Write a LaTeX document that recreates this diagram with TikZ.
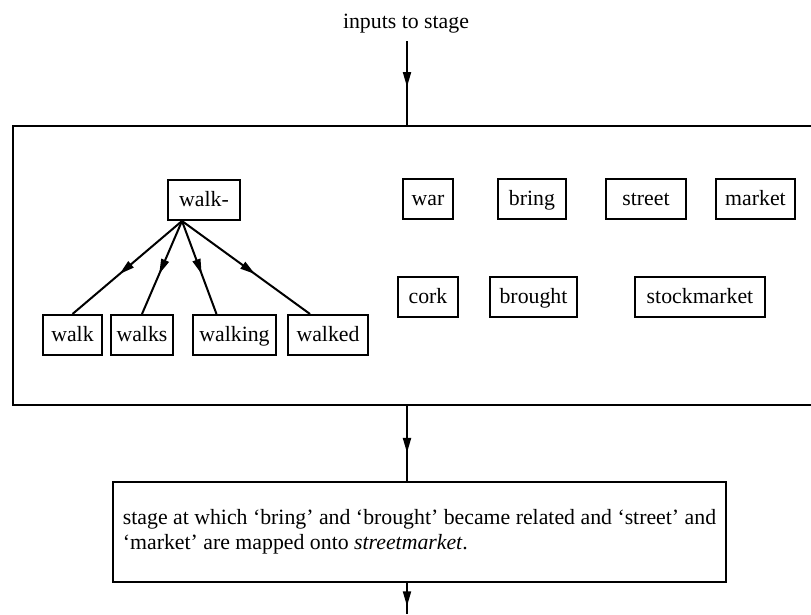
\documentclass[tikz,border=0pt]{standalone}
\usepackage{fontspec}
\setmainfont{Liberation Serif}
\usetikzlibrary{arrows.meta,decorations.markings}

\tikzset{
  word/.style={draw,line width=2pt,inner xsep=5pt,minimum height=40pt,
    text height=16pt,text depth=4pt,font=\fontsize{21.8}{25}\selectfont},
  flow/.style={line width=2pt},
  midarrow/.style={postaction={decorate},decoration={markings,
    mark=at position #1 with {\arrow{Triangle[length=15pt,width=8pt]}}}}
}

\begin{document}
\begin{tikzpicture}[x=1pt,y=-1pt]
\useasboundingbox (0,0) rectangle (811,614);

% ---------- Input to the stage ----------
\node[font=\fontsize{21.8}{25}\selectfont,anchor=base] (inputs) at (406,28) {inputs to stage};
\coordinate (topin) at (407,126);
\draw[flow,midarrow=0.54] ([yshift=-5pt]inputs.south -| topin) -- (topin);

% ---------- The stage (right side runs off the page) ----------
\draw[flow] (830,126) -- (13,126) -- (13,405) -- (830,405);
\coordinate (topout) at (407,405);

% walk- and its forms
\node[word,minimum width=72pt] (stem) at (204,200) {walk-};
\node[word,minimum width=59pt] (walk) at (72.5,335) {walk};
\node[word,minimum width=62pt] (walks) at (142,335) {walks};
\node[word,minimum width=83pt] (walking) at (234.5,335) {walking};
\node[word,minimum width=80pt] (walked) at (328,335) {walked};
\coordinate (foot) at ([xshift=-22pt]stem.south);

\draw[flow,midarrow=0.57] (foot) -- (walk.north);
\draw[flow,midarrow=0.57] (foot) -- (walks.north);
\draw[flow,midarrow=0.57] (foot) -- ([xshift=-18pt]walking.north);
\draw[flow,midarrow=0.57] (foot) -- ([xshift=-18pt]walked.north);

% loose words
\node[word,minimum width=50pt] (war) at (428,199) {war};
\node[word,minimum width=68pt] (bring) at (532,199) {bring};
\node[word,minimum width=80pt] (street) at (646,199) {street};
\node[word,minimum width=79pt] (market) at (755.5,199) {market};
\node[word,minimum width=60pt] (cork) at (428,297) {cork};
\node[word,minimum width=87pt] (brought) at (533.5,297) {brought};
\node[word,minimum width=130pt] (stock) at (700,297) {stockmarket};

% ---------- Next stage ----------
\node[word,align=left,text height=,text depth=,minimum width=613pt,minimum height=100pt] (next) at (419.5,532)
  {stage at which `bring' and `brought' became related and `street' and\\
   `market' are mapped onto \textit{streetmarket}.};
\draw[flow,midarrow=0.63] (topout) -- (topout |- next.north);

\coordinate (out) at (407,614);
\draw[flow,midarrow=0.75] (out |- next.south) -- (out);

\end{tikzpicture}
\end{document}
